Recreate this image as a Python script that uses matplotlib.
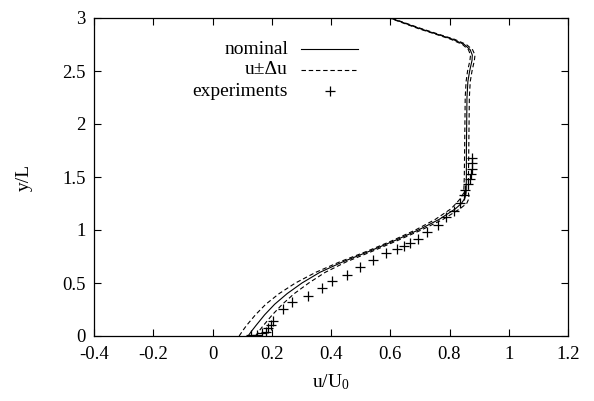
import matplotlib
matplotlib.use("Agg")
import matplotlib.pyplot as plt
from matplotlib.lines import Line2D

plt.rcParams["font.family"] = ["Liberation Serif", "DejaVu Serif"]
plt.rcParams["mathtext.fontset"] = "custom"
plt.rcParams["mathtext.rm"] = "Liberation Serif"
plt.rcParams["mathtext.it"] = "Liberation Serif:italic"

# Velocity profiles: wall-normal position and streamwise velocity
y_sim = [0.0, 0.05, 0.1, 0.2, 0.3, 0.4, 0.5, 0.6, 0.7, 0.8, 0.9, 1.0, 1.1, 1.2,
         1.25, 1.3, 1.35, 1.5, 1.75, 2.0, 2.25, 2.4, 2.5, 2.6, 2.65, 2.7, 2.75,
         2.8, 2.85, 2.9, 2.95, 3.0]
u_nominal = [0.120, 0.133, 0.147, 0.176, 0.210, 0.252, 0.302, 0.362, 0.440, 0.530,
             0.615, 0.695, 0.765, 0.820, 0.840, 0.852, 0.856, 0.857, 0.857, 0.858,
             0.859, 0.862, 0.868, 0.876, 0.877, 0.870, 0.850, 0.810, 0.755, 0.700,
             0.650, 0.600]
u_minus = [0.090, 0.102, 0.115, 0.145, 0.180, 0.225, 0.280, 0.348, 0.430, 0.522,
           0.607, 0.685, 0.752, 0.805, 0.822, 0.838, 0.848, 0.850, 0.851, 0.852,
           0.853, 0.856, 0.861, 0.869, 0.871, 0.864, 0.844, 0.804, 0.750, 0.695,
           0.646, 0.597]
u_plus = [0.145, 0.158, 0.172, 0.202, 0.236, 0.276, 0.325, 0.380, 0.452, 0.540,
          0.624, 0.705, 0.778, 0.835, 0.858, 0.866, 0.864, 0.864, 0.865, 0.866,
          0.867, 0.870, 0.876, 0.884, 0.886, 0.878, 0.857, 0.816, 0.760, 0.705,
          0.654, 0.603]

# Measured profile
u_exp = [0.129, 0.151, 0.166, 0.181, 0.188, 0.196, 0.205, 0.237, 0.269, 0.323,
         0.371, 0.404, 0.453, 0.498, 0.543, 0.585, 0.624, 0.646, 0.667, 0.693,
         0.725, 0.760, 0.788, 0.816, 0.835, 0.848, 0.852, 0.862, 0.868, 0.873,
         0.876, 0.877, 0.877]
y_exp = [0.009, 0.010, 0.025, 0.041, 0.072, 0.104, 0.145, 0.252, 0.318, 0.380,
         0.450, 0.519, 0.579, 0.648, 0.717, 0.780, 0.818, 0.849, 0.880, 0.915,
         0.984, 1.047, 1.119, 1.179, 1.252, 1.33, 1.38, 1.43, 1.48, 1.53, 1.58,
         1.63, 1.68]

x_ticks = [-0.4, -0.2, 0, 0.2, 0.4, 0.6, 0.8, 1, 1.2]
y_ticks = [0, 0.5, 1, 1.5, 2, 2.5, 3]

fig = plt.figure(figsize=(5.94, 4.01), dpi=100)
ax = fig.add_axes([94 / 594, 65 / 401, 474 / 594, 318 / 401])

lw = 0.8
dash = (4, 2.5)
ax.plot(u_nominal, y_sim, color="black", lw=lw)
ax.plot(u_minus, y_sim, color="black", lw=lw, dashes=dash)
ax.plot(u_plus, y_sim, color="black", lw=lw, dashes=dash)
ax.plot(u_exp, y_exp, ls="none", marker="+", ms=7, mew=0.9, color="black")

ax.set_xlim(-0.4, 1.2)
ax.set_ylim(0, 3)
ax.set_xticks(x_ticks)
ax.set_xticklabels([f"{v:g}" for v in x_ticks])
ax.set_yticks(y_ticks)
ax.set_yticklabels([f"{v:g}" for v in y_ticks])
ax.tick_params(direction="in", top=True, right=True, length=5, width=0.8,
               labelsize=13.5)
ax.tick_params(axis="x", pad=7)
ax.tick_params(axis="y", pad=6)
for s in ax.spines.values():
    s.set_linewidth(0.9)

ax.set_xlabel("u/U$_\\mathrm{0}$", fontsize=14)
ax.set_ylabel("y/L", fontsize=14)
ax.xaxis.set_label_coords(0.5, -0.115)
ax.yaxis.set_label_coords(-0.13, 0.5)

# Key in gnuplot style: right-aligned labels followed by their sample
key_labels = ["nominal", "u\u00b1\u0394u", "experiments"]
key_rows = [0.9025, 0.8365, 0.7704]
text_right, sample_left, sample_right = 0.4093, 0.4367, 0.557
for label, row in zip(key_labels, key_rows):
    ax.text(text_right, row, label, transform=ax.transAxes, ha="right",
            va="center", fontsize=14)
ax.add_line(Line2D([sample_left, sample_right], [key_rows[0]] * 2,
                   transform=ax.transAxes, color="black", lw=lw))
ax.add_line(Line2D([sample_left, sample_right], [key_rows[1]] * 2,
                   transform=ax.transAxes, color="black", lw=lw, dashes=dash))
ax.add_line(Line2D([(sample_left + sample_right) / 2], [key_rows[2]],
                   transform=ax.transAxes, ls="none", marker="+", ms=7,
                   mew=0.9, color="black"))

fig.savefig("out.png", dpi=100)
